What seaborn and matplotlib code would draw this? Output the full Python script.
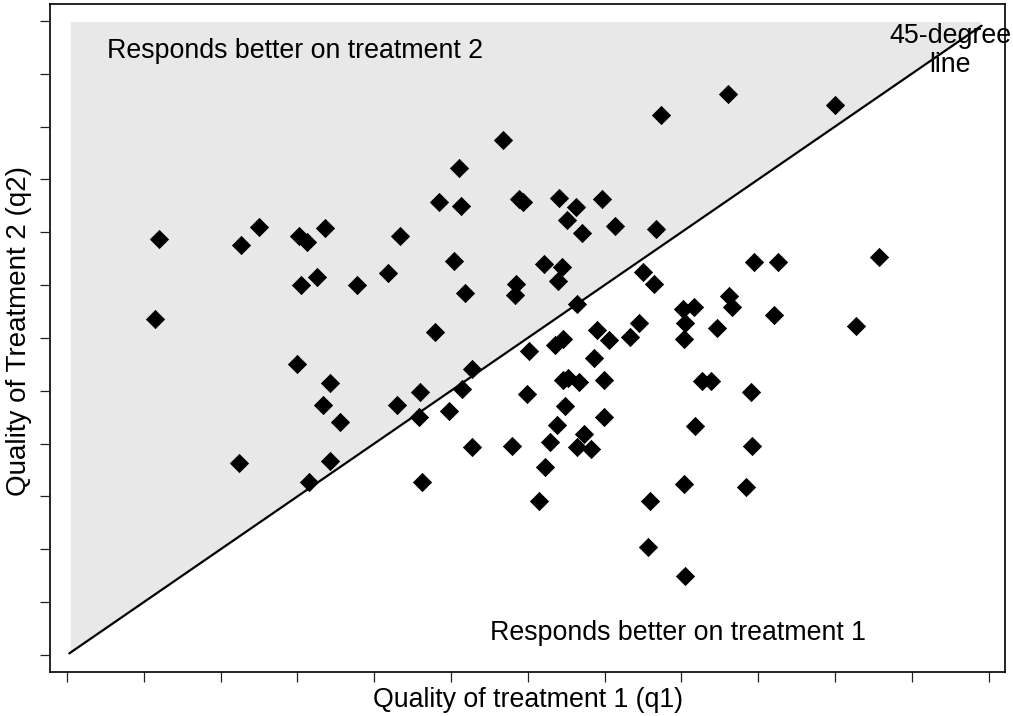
import numpy as np
import pandas as pd
import matplotlib
matplotlib.use("Agg")
import matplotlib.pyplot as plt
import seaborn as sns

# Quality of treatment 1 (q1) and treatment 2 (q2) for each patient
q1 = [1.20, 2.27, 2.50, 3.02, 3.12, 3.36, 4.34, 4.85, 3.05, 3.26, 3.78, 4.18,
      1.15, 4.79, 2.99, 3.42, 3.34, 3.55, 4.30, 4.60, 4.58, 2.24, 3.43, 3.15,
      4.62, 7.73, 8.61, 10.00, 5.68, 5.11, 5.13, 5.88, 5.94, 6.41, 6.63, 6.51,
      6.97, 6.70, 7.14, 7.67, 5.04, 5.18, 6.21, 6.44, 6.39, 5.85, 5.84, 6.64,
      5.28, 5.15, 7.50, 7.65, 8.94, 9.26, 8.62, 8.66, 8.02, 8.17, 8.05, 8.03,
      8.46, 9.21, 7.45, 7.33, 6.90, 7.06, 6.36, 6.46, 6.02, 6.86, 6.46, 6.53,
      6.67, 6.99, 5.99, 8.27, 8.38, 8.91, 10.57, 10.27, 6.49, 6.99, 4.97, 8.18,
      6.38, 6.73, 6.29, 6.64, 6.82, 8.92, 5.28, 5.79, 6.23, 8.04, 8.84, 6.15,
      7.59, 7.56, 8.05]
q2 = [7.87, 7.76, 8.10, 7.93, 7.82, 8.08, 7.93, 8.58, 7.00, 7.15, 7.00, 7.23,
      6.36, 6.11, 5.51, 5.15, 4.73, 4.41, 4.73, 4.97, 4.51, 3.64, 3.67, 3.27,
      3.27, 10.22, 10.61, 10.40, 9.74, 9.22, 8.49, 8.63, 8.58, 8.64, 8.47, 8.23,
      8.63, 7.98, 8.12, 8.06, 7.45, 6.85, 7.39, 7.34, 7.07, 7.03, 6.82, 6.64,
      5.41, 5.04, 7.24, 7.02, 7.44, 7.43, 6.80, 6.58, 6.54, 6.58, 6.28, 5.98,
      6.19, 6.44, 6.29, 6.01, 6.15, 5.96, 5.86, 5.98, 5.75, 5.62, 5.21, 5.24,
      5.16, 5.21, 4.94, 5.19, 5.19, 4.97, 7.54, 6.23, 4.71, 4.50, 4.62, 4.33,
      4.35, 4.18, 4.04, 3.94, 3.89, 3.96, 3.94, 3.95, 3.55, 3.24, 3.17, 2.91,
      2.92, 2.04, 1.50]

tick_vals = list(range(13))
line_ends = [0.03, 11.91]

sns.set_style("ticks")
plt.rcParams["font.family"] = ["Liberation Sans", "DejaVu Sans"]
plt.rcParams["text.color"] = "black"
plt.rcParams["axes.labelcolor"] = "black"

fig = plt.figure(figsize=(10.13, 7.16), dpi=100)
ax = fig.add_axes([50 / 1013, 1 - 672 / 716, (1005 - 50) / 1013, (672 - 4) / 716])

# shaded region above the 45-degree line
shade_x = [0.05, 11.9, 11.9, 0.05]
shade_y = [0.05, 11.9, 11.98, 11.98]
ax.fill(shade_x, shade_y, color="#e8e8e8", linewidth=0, zorder=0)

ax.plot(line_ends, line_ends, color="black", linewidth=1.6, zorder=1)

df = pd.DataFrame({"q1": q1, "q2": q2})
sns.scatterplot(data=df, x="q1", y="q2", marker="D", s=85, color="black",
                edgecolor="black", linewidth=0.6, ax=ax, zorder=3)

ax.set_xlim(-0.221, 12.214)
ax.set_ylim(-0.322, 12.32)
ax.set_xticks(tick_vals)
ax.set_yticks(tick_vals)
ax.set_xticklabels([])
ax.set_yticklabels([])
ax.tick_params(axis="both", direction="out", length=7.2, width=0.9, color="#222222")
for sp in ax.spines.values():
    sp.set_linewidth(1.2)
    sp.set_color("black")

fs = 19.3
ax.set_xlabel("Quality of treatment 1 (q1)", fontsize=fs, labelpad=0)
ax.set_ylabel("Quality of Treatment 2 (q2)", fontsize=20)
ax.yaxis.set_label_coords(-0.019, 0.51)

ax.text(0.52, 11.29, "Responds better on treatment 2", fontsize=fs, ha="left", va="baseline")
ax.text(5.51, 0.28, "Responds better on treatment 1", fontsize=fs, ha="left", va="baseline")
ax.text(11.5, 11.58, "45-degree", fontsize=fs, ha="center", va="baseline", clip_on=False)
ax.text(11.5, 11.04, "line", fontsize=fs, ha="center", va="baseline")

fig.savefig("out.png", dpi=100)
